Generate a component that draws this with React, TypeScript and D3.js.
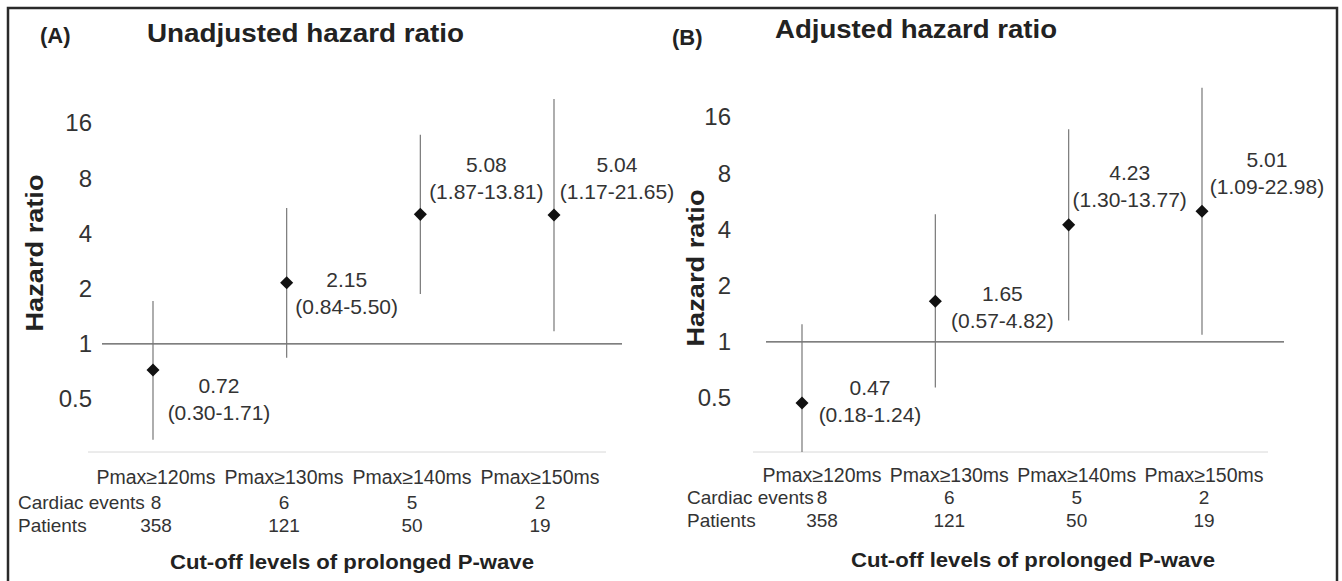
import React, { useEffect, useRef } from 'react';
import * as d3 from 'd3';

// cut-off levels and table rows
const categories = ['Pmax≥120ms', 'Pmax≥130ms', 'Pmax≥140ms', 'Pmax≥150ms'];
const cardiacEvents = [8, 6, 5, 2];
const patients = [358, 121, 50, 19];

// hazard ratios with 95% CI
const unadjustedHR = [0.72, 2.15, 5.08, 5.04];
const unadjustedLow = [0.30, 0.84, 1.87, 1.17];
const unadjustedHigh = [1.71, 5.50, 13.81, 21.65];

const adjustedHR = [0.47, 1.65, 4.23, 5.01];
const adjustedLow = [0.18, 0.57, 1.30, 1.09];
const adjustedHigh = [1.24, 4.82, 13.77, 22.98];

const yTicks = [0.5, 1, 2, 4, 8, 16];

const FONT = '"Liberation Sans", Arial, Helvetica, sans-serif';

const App: React.FC = () => {
  const svgRef = useRef<SVGSVGElement>(null);

  useEffect(() => {
    if (!svgRef.current) return;
    const svg = d3.select(svgRef.current);
    svg.selectAll('*').remove();

    svg.append('rect').attr('width', 1342).attr('height', 581).attr('fill', '#fff');

    const panels = [
      {
        tag: '(A)', title: 'Unadjusted hazard ratio', hr: unadjustedHR, lo: unadjustedLow, hi: unadjustedHigh,
        tagX: 40, tagY: 43, titleX: 147, titleY: 42, titleLen: 317,
        tickRight: 92, yRange: [399, 123], xRange: [153, 554], refLine: [102, 622], baseLine: [88, 606],
        tableRange: [156, 540], rowLabelX: 18, catY: 477, eventsY: 502, patientsY: 525,
        xTitleX: 352, xTitleY: 562, yTitleX: 34, yTitleY: 253,
        notes: [{ dx: 66, dy: 16 }, { dx: 60, dy: -3 }, { dx: 66, dy: -50 }, { dx: 63, dy: -50 }],
      },
      {
        tag: '(B)', title: 'Adjusted hazard ratio', hr: adjustedHR, lo: adjustedLow, hi: adjustedHigh,
        tagX: 672, tagY: 45, titleX: 775, titleY: 38, titleLen: 282,
        tickRight: 731, yRange: [398, 117], xRange: [802, 1202], refLine: [766, 1284], baseLine: [753, 1268],
        tableRange: [822, 1204], rowLabelX: 687, catY: 475, eventsY: 497, patientsY: 520,
        xTitleX: 1033, xTitleY: 560, yTitleX: 695, yTitleY: 268,
        notes: [{ dx: 68, dy: -15 }, { dx: 67, dy: -8 }, { dx: 61, dy: -52 }, { dx: 65, dy: -51 }],
      },
    ];

    panels.forEach(p => {
      const g = svg.append('g').attr('font-family', FONT).attr('fill', '#222');
      const y = d3.scaleLog().base(2).domain([0.5, 16]).range(p.yRange);
      const x = d3.scalePoint<string>().domain(categories).range(p.xRange);
      const xt = d3.scalePoint<string>().domain(categories).range(p.tableRange);
      const bottom = 452;

      // titles
      g.append('text').attr('x', p.tagX).attr('y', p.tagY)
        .attr('font-size', 22).attr('font-weight', 'bold').text(p.tag);
      g.append('text').attr('x', p.titleX).attr('y', p.titleY)
        .attr('font-size', 25).attr('font-weight', 'bold')
        .attr('textLength', p.titleLen).attr('lengthAdjust', 'spacingAndGlyphs').text(p.title);

      // y tick labels
      g.selectAll('.tick').data(yTicks).enter().append('text')
        .attr('x', p.tickRight).attr('y', d => y(d)).attr('dy', '0.35em')
        .attr('text-anchor', 'end').attr('font-size', 24).attr('fill', '#333')
        .text(d => String(d));

      // y title
      g.append('text')
        .attr('transform', `translate(${p.yTitleX + 9},${p.yTitleY}) rotate(-90)`)
        .attr('text-anchor', 'middle').attr('font-size', 24).attr('font-weight', 'bold')
        .attr('textLength', 157).attr('lengthAdjust', 'spacingAndGlyphs').text('Hazard ratio');

      // reference line at HR = 1 and baseline
      g.append('line').attr('x1', p.refLine[0]).attr('x2', p.refLine[1])
        .attr('y1', y(1)).attr('y2', y(1)).attr('stroke', '#555').attr('stroke-width', 1.2);
      g.append('line').attr('x1', p.baseLine[0]).attr('x2', p.baseLine[1])
        .attr('y1', bottom).attr('y2', bottom).attr('stroke', '#d8d8d8').attr('stroke-width', 1);

      // CI lines
      g.selectAll('.ci').data(categories).enter().append('line')
        .attr('x1', d => x(d)!).attr('x2', d => x(d)!)
        .attr('y1', (_, i) => Math.min(y(p.lo[i]), bottom))
        .attr('y2', (_, i) => y(p.hi[i]))
        .attr('stroke', '#777').attr('stroke-width', 1.2);

      // diamonds
      const diamond = d3.symbol().type(d3.symbolSquare).size(85)();
      g.selectAll('.pt').data(categories).enter().append('path')
        .attr('d', diamond)
        .attr('transform', (d, i) => `translate(${x(d)},${y(p.hr[i])}) rotate(45)`)
        .attr('fill', '#111');

      // value annotations
      categories.forEach((c, i) => {
        const cx = x(c)! + p.notes[i].dx;
        const cy = y(p.hr[i]) + p.notes[i].dy;
        g.append('text').attr('x', cx).attr('y', cy).attr('dy', '0.35em')
          .attr('text-anchor', 'middle').attr('font-size', 21).attr('fill', '#333')
          .text(p.hr[i].toFixed(2));
        g.append('text').attr('x', cx).attr('y', cy + 27).attr('dy', '0.35em')
          .attr('text-anchor', 'middle').attr('font-size', 21).attr('fill', '#333')
          .text(`(${p.lo[i].toFixed(2)}-${p.hi[i].toFixed(2)})`);
      });

      // table below
      g.selectAll('.cat').data(categories).enter().append('text')
        .attr('x', d => xt(d)!).attr('y', p.catY).attr('dy', '0.35em')
        .attr('text-anchor', 'middle').attr('font-size', 19.5).attr('fill', '#333').text(d => d);
      g.append('text').attr('x', p.rowLabelX).attr('y', p.eventsY).attr('dy', '0.35em')
        .attr('font-size', 19).attr('fill', '#333').text('Cardiac events');
      g.append('text').attr('x', p.rowLabelX).attr('y', p.patientsY).attr('dy', '0.35em')
        .attr('font-size', 19).attr('fill', '#333').text('Patients');
      g.selectAll('.ev').data(categories).enter().append('text')
        .attr('x', d => xt(d)!).attr('y', p.eventsY).attr('dy', '0.35em')
        .attr('text-anchor', 'middle').attr('font-size', 19).attr('fill', '#333')
        .text((_, i) => String(cardiacEvents[i]));
      g.selectAll('.pa').data(categories).enter().append('text')
        .attr('x', d => xt(d)!).attr('y', p.patientsY).attr('dy', '0.35em')
        .attr('text-anchor', 'middle').attr('font-size', 19).attr('fill', '#333')
        .text((_, i) => String(patients[i]));

      // x title
      g.append('text').attr('x', p.xTitleX).attr('y', p.xTitleY).attr('dy', '0.35em')
        .attr('text-anchor', 'middle').attr('font-size', 21).attr('font-weight', 'bold')
        .attr('textLength', 364).attr('lengthAdjust', 'spacingAndGlyphs')
        .text('Cut-off levels of prolonged P-wave');
    });

    // outer frame
    svg.append('rect').attr('x', 8).attr('y', 8).attr('width', 1329).attr('height', 600)
      .attr('fill', 'none').attr('stroke', '#2a2a2a').attr('stroke-width', 2.5);
  }, []);

  return (
    <svg
      ref={svgRef}
      width={1342}
      height={581}
      style={{ position: 'absolute', left: 0, top: 0, display: 'block' }}
    />
  );
};

export default App;
